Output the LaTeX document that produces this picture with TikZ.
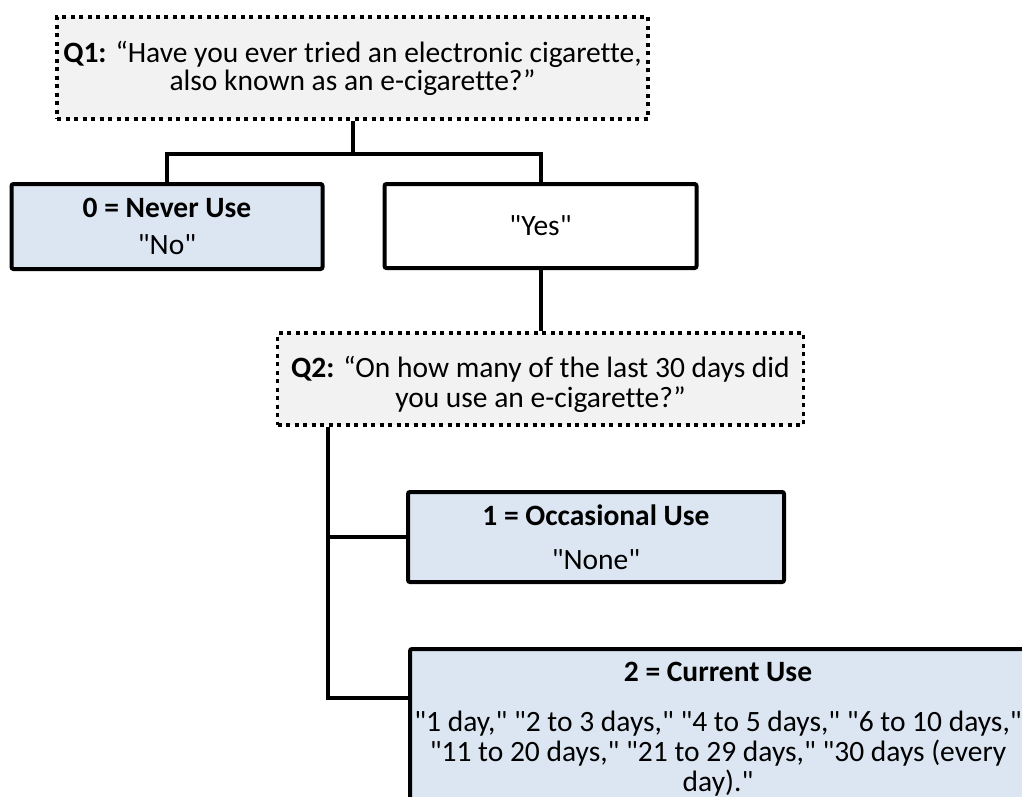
\documentclass[tikz,border=0pt]{standalone}
\usepackage{fontspec}
\setmainfont{Carlito}[Ligatures={TeXOff,CommonOff}]
\usepackage{tikz}
\usetikzlibrary{positioning, calc}
\usepackage{xcolor}
\definecolor{askgray}{HTML}{F2F2F2}
\definecolor{codeblue}{HTML}{DCE6F2}

\begin{document}
\begin{tikzpicture}[x=1pt, y=-1pt, font=\fontsize{29.5pt}{30pt}\selectfont,
  question/.style={draw, line width=3.5pt, dash pattern=on 4pt off 4.5pt, fill=askgray, align=center, inner sep=0pt},
  answer/.style={draw, line width=4pt, rounded corners=2pt, fill=white, align=center, inner sep=0pt},
  coded/.style={answer, fill=codeblue},
  link/.style={line width=4pt}]
  \useasboundingbox (0,0) rectangle (1022,797);
  \clip (0,0) rectangle (1022,797);
  \node[question, minimum width=591pt, minimum height=102pt] (q1) at (352.5,68)
    {\textbf{Q1:} “Have you ever tried an electronic cigarette,\\[-2pt] also known as an e-cigarette?”};
  \node[coded, minimum width=311pt, minimum height=85pt] (never) at (167,226.5)
    {\textbf{0 = Never Use}\\[7pt]"No"};
  \node[answer, minimum width=312pt, minimum height=84pt] (yes) at (540.5,226) {"Yes"};
  \node[question, minimum width=526pt, minimum height=92pt] (q2) at (540.5,379)
    {\rule{0pt}{33pt}\textbf{Q2:} “On how many of the last 30 days did\\ you use an e-cigarette?”};
  \node[coded, minimum width=376pt, minimum height=90pt] (occ) at (596,537)
    {\textbf{1 = Occasional Use}\\[14pt]"None"};
  \node[coded, anchor=north west, minimum width=616pt, inner ysep=13pt] (cur) at (408,647)
    {\textbf{2 = Current Use}\\[20pt]"1 day," "2 to 3 days," "4 to 5 days," "6 to 10 days,"\\
     "11 to 20 days," "21 to 29 days," "30 days (every\\ day)."};
  \coordinate (split) at ($(q1.south)+(0,33)$);
  \coordinate (trunk) at ($(q2.south west)+(52,0)$);
  \coordinate (curin) at ($(cur.north west)+(0,51)$);
  \draw[link] (q1.south) -- (split);
  \draw[link] (never.north) -- (never.north |- split) -- (yes.north |- split) -- (yes.north);
  \draw[link] (yes.south) -- (q2.north);
  \draw[link] (trunk) |- (occ.west);
  \draw[link] (trunk) |- (curin);
\end{tikzpicture}
\end{document}
